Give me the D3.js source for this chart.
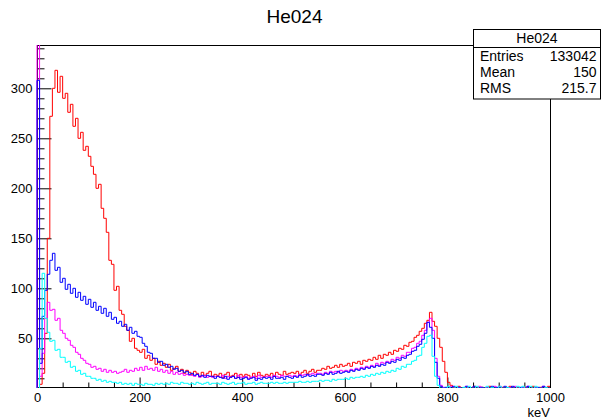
<!DOCTYPE html>
<html>
<head>
<meta charset="utf-8">
<script src="https://cdn.jsdelivr.net/npm/d3@7"></script>
<style>
  html, body { margin: 0; padding: 0; background: #fff; }
  svg { display: block; font-family: "Liberation Sans", Arial, Helvetica, sans-serif; }
</style>
</head>
<body>
<svg id="chart" width="602" height="418"></svg>
<script>
// Energy spectra, 5 keV bins from 0 to 1000 keV (200 bins per run)
const binWidth = 5;
const title = "He024";
const xTitle = "keV";

const redCounts = [
  0, 4, 15, 55, 150, 272, 300, 318, 296, 312,
  290, 295, 276, 284, 262, 270, 250, 256, 238, 242,
  232, 222, 214, 200, 204, 180, 170, 156, 128, 124,
  98, 102, 78, 74, 62, 58, 47, 50, 40, 38,
  36, 39, 30, 33, 28, 30, 24, 27, 23, 25,
  21, 24, 18, 20, 22, 17, 19, 15, 18, 16,
  14, 17, 15, 12, 16, 13, 15, 17, 12, 14,
  13, 15, 11, 14, 16, 12, 13, 15, 11, 14,
  12, 14, 13, 11, 15, 12, 16, 13, 12, 14,
  13, 15, 12, 16, 14, 13, 17, 14, 15, 16,
  15, 17, 14, 16, 18, 15, 17, 19, 16, 18,
  18, 20, 19, 22, 20, 21, 23, 21, 24, 22,
  23, 25, 22, 26, 25, 27, 24, 28, 27, 29,
  28, 31, 29, 33, 30, 34, 33, 36, 34, 38,
  37, 40, 39, 43, 42, 46, 47, 51, 53, 57,
  60, 65, 68, 76, 67, 62, 50, 41, 27, 16,
  6, 3, 1, 0, 2, 0, 0, 1, 0, 0,
  2, 0, 0, 1, 0, 0, 2, 0, 0, 0,
  0, 1, 0, 0, 2, 0, 0, 1, 0, 0,
  1, 0, 0, 2, 0, 0, 1, 0, 0, 2
];

const magentaCounts = [
  400, 12, 35, 70, 86, 78, 79, 68, 70, 58,
  55, 50, 48, 43, 41, 36, 34, 30, 28, 25,
  24, 21, 22, 19, 20, 17, 19, 16, 18, 16,
  17, 15, 16, 17, 19, 16, 18, 17, 20, 18,
  21, 18, 22, 19, 20, 18, 21, 17, 19, 16,
  18, 15, 17, 14, 16, 14, 15, 13, 14, 13,
  13, 12, 14, 11, 12, 13, 11, 12, 11, 12,
  12, 11, 13, 10, 12, 11, 12, 10, 13, 11,
  11, 12, 10, 11, 12, 10, 13, 11, 11, 12,
  12, 11, 13, 12, 11, 13, 12, 12, 13, 12,
  13, 12, 14, 13, 14, 13, 14, 15, 14, 15,
  15, 14, 16, 15, 17, 16, 17, 16, 18, 17,
  18, 17, 19, 18, 20, 19, 21, 20, 22, 21,
  23, 22, 25, 23, 26, 25, 27, 26, 29, 28,
  31, 30, 33, 32, 36, 36, 40, 41, 45, 47,
  53, 58, 66, 70, 58, 30, 12, 3, 1, 0,
  0, 2, 0, 0, 1, 0, 0, 2, 0, 0,
  0, 0, 2, 0, 0, 1, 0, 0, 2, 0,
  2, 0, 0, 0, 1, 0, 2, 0, 0, 1,
  0, 2, 0, 0, 1, 0, 0, 2, 0, 0
];

const blueCounts = [
  308, 25, 72, 98, 114, 128, 135, 118, 121, 106,
  110, 99, 104, 95, 100, 91, 96, 88, 92, 84,
  89, 81, 86, 78, 82, 75, 80, 72, 76, 69,
  71, 65, 67, 62, 64, 58, 61, 55, 57, 52,
  51, 45, 42, 36, 35, 30, 30, 26, 27, 23,
  24, 21, 22, 19, 20, 17, 18, 16, 17, 14,
  15, 13, 14, 12, 13, 11, 13, 12, 12, 10,
  12, 11, 10, 12, 9, 11, 12, 10, 11, 9,
  10, 11, 9, 10, 11, 8, 10, 9, 11, 10,
  11, 9, 12, 10, 10, 11, 9, 12, 11, 10,
  12, 11, 13, 11, 12, 14, 12, 13, 12, 14,
  14, 13, 15, 14, 16, 14, 15, 17, 15, 16,
  17, 16, 18, 17, 19, 18, 20, 19, 21, 20,
  22, 21, 23, 22, 24, 23, 26, 25, 27, 26,
  29, 28, 31, 30, 33, 34, 37, 38, 42, 44,
  49, 55, 66, 61, 50, 26, 10, 2, 0, 1,
  0, 0, 2, 0, 1, 0, 0, 2, 0, 0,
  2, 0, 0, 1, 0, 0, 0, 2, 0, 1,
  0, 0, 2, 0, 0, 2, 0, 0, 1, 0,
  0, 2, 0, 0, 0, 1, 0, 2, 0, 0
];

const cyanCounts = [
  0, 40, 115, 70, 56, 47, 48, 38, 39, 31,
  31, 26, 27, 21, 22, 17, 18, 14, 15, 12,
  12, 10, 10, 8, 9, 7, 8, 6, 7, 6,
  6, 5, 6, 4, 5, 4, 5, 3, 5, 4,
  4, 3, 5, 4, 4, 3, 5, 4, 5, 4,
  5, 4, 6, 5, 5, 4, 6, 5, 5, 4,
  5, 4, 6, 5, 4, 5, 6, 4, 5, 5,
  5, 4, 6, 5, 4, 5, 6, 4, 5, 5,
  6, 4, 5, 5, 6, 4, 5, 6, 5, 5,
  5, 6, 5, 6, 5, 5, 6, 5, 6, 6,
  6, 6, 7, 6, 6, 7, 6, 7, 7, 7,
  8, 7, 8, 8, 7, 9, 8, 9, 9, 9,
  10, 9, 11, 10, 11, 11, 12, 11, 13, 12,
  14, 13, 15, 14, 16, 15, 17, 16, 18, 17,
  20, 19, 22, 21, 24, 24, 27, 28, 32, 33,
  41, 45, 52, 53, 32, 12, 3, 0, 0, 0,
  2, 0, 0, 2, 0, 0, 1, 0, 2, 0,
  0, 2, 0, 0, 0, 2, 0, 1, 0, 0,
  2, 0, 0, 1, 0, 0, 0, 2, 0, 2,
  0, 0, 2, 0, 2, 0, 0, 0, 1, 0
];

// drawing order: first drawn ends up underneath
const seriesValues = [redCounts, magentaCounts, blueCounts, cyanCounts];
const seriesColors = ["#ff0000", "#ff00ff", "#0000ff", "#00ffff"];

const xTickValues = [0, 200, 400, 600, 800, 1000];
const yTickValues = [50, 100, 150, 200, 250, 300];

const statTitle = "He024";
const statLabels = ["Entries", "Mean", "RMS"];
const statValues = ["133042", "150", "215.7"];

// ---- layout ----
const frame = { left: 37, right: 550, top: 45, bottom: 387 };
const xDomain = [0, 1000];
const yDomain = [1.3, 343.3];

const svg = d3.select("#chart");

const x = d3.scaleLinear().domain(xDomain).range([frame.left, frame.right]);
const y = d3.scaleLinear().domain(yDomain).range([frame.bottom, frame.top]);

// title
svg.append("text")
  .attr("x", 294.5).attr("y", 23)
  .attr("text-anchor", "middle")
  .attr("font-size", 19)
  .attr("fill", "#000")
  .text(title);

// clip for histogram lines
svg.append("defs").append("clipPath").attr("id", "plotClip")
  .append("rect")
  .attr("x", frame.left - 1).attr("y", frame.top)
  .attr("width", frame.right - frame.left + 1)
  .attr("height", frame.bottom - frame.top + 1);

// axes (ticks point into the frame)
const yMajor = d3.axisLeft(y).tickValues(yTickValues).tickSizeInner(-14).tickSizeOuter(0).tickPadding(5)
  .tickFormat(d3.format("d"));
const yMinorVals = d3.range(10, 341, 10).filter(v => v % 50 !== 0);
const yMinor = d3.axisLeft(y).tickValues(yMinorVals).tickSizeInner(-7).tickSizeOuter(0).tickFormat("");

const xMajor = d3.axisBottom(x).tickValues(xTickValues).tickSizeInner(-10).tickSizeOuter(0).tickPadding(5)
  .tickFormat(d3.format("d"));
const xMinorVals = d3.range(50, 1000, 50).filter(v => v % 200 !== 0);
const xMinor = d3.axisBottom(x).tickValues(xMinorVals).tickSizeInner(-5).tickSizeOuter(0).tickFormat("");

function styleAxis(g) {
  g.select(".domain").remove();
  g.selectAll("line").attr("stroke", "#000").attr("stroke-width", 1);
  g.selectAll("text").attr("font-size", 13).attr("fill", "#000")
    .attr("font-family", "\"Liberation Sans\", Arial, Helvetica, sans-serif");
}

svg.append("g").attr("transform", `translate(${frame.left + 0.5},0)`).call(yMinor).call(styleAxis);
svg.append("g").attr("transform", `translate(${frame.left + 0.5},0)`).call(yMajor).call(styleAxis);
svg.append("g").attr("transform", `translate(0,${frame.bottom + 0.5})`).call(xMinor).call(styleAxis);
svg.append("g").attr("transform", `translate(0,${frame.bottom + 0.5})`).call(xMajor).call(styleAxis);

// frame box
svg.append("rect")
  .attr("x", frame.left + 0.5).attr("y", frame.top + 0.5)
  .attr("width", frame.right - frame.left).attr("height", frame.bottom - frame.top)
  .attr("fill", "none").attr("stroke", "#000").attr("stroke-width", 1);

// histogram outlines; empty bins fall just below the frame and are clipped
const line = d3.line()
  .x(d => x(d[0]))
  .y(d => y(d[1]))
  .curve(d3.curveStepAfter);

const histG = svg.append("g").attr("clip-path", "url(#plotClip)");
seriesValues.forEach((vals, k) => {
  const pts = [[0, 0]];
  vals.forEach((v, i) => pts.push([i * binWidth, v]));
  pts.push([vals.length * binWidth, vals[vals.length - 1]]);
  pts.push([vals.length * binWidth, 0]);
  histG.append("path")
    .attr("d", line(pts))
    .attr("fill", "none")
    .attr("stroke", seriesColors[k])
    .attr("stroke-width", 1);
});

// x axis title
svg.append("text")
  .attr("x", 550).attr("y", 416.5)
  .attr("text-anchor", "end")
  .attr("font-size", 13)
  .attr("fill", "#000")
  .text(xTitle);

// statistics box
const box = { x: 473.5, y: 29.5, w: 127, h: 69.5, sep: 47.5 };
svg.append("rect")
  .attr("x", box.x).attr("y", box.y).attr("width", box.w).attr("height", box.h)
  .attr("fill", "#fff").attr("stroke", "#000").attr("stroke-width", 1);
svg.append("line")
  .attr("x1", box.x).attr("x2", box.x + box.w)
  .attr("y1", box.sep).attr("y2", box.sep)
  .attr("stroke", "#000").attr("stroke-width", 1);
svg.append("text")
  .attr("x", box.x + box.w / 2).attr("y", 43)
  .attr("text-anchor", "middle").attr("font-size", 14).attr("fill", "#000")
  .text(statTitle);
const rowBase = [61, 77, 93];
statLabels.forEach((lab, i) => {
  svg.append("text")
    .attr("x", 480).attr("y", rowBase[i])
    .attr("font-size", 14).attr("fill", "#000")
    .text(lab);
  svg.append("text")
    .attr("x", 596.5).attr("y", rowBase[i])
    .attr("text-anchor", "end")
    .attr("font-size", 14).attr("fill", "#000")
    .text(statValues[i]);
});
</script>
</body>
</html>
